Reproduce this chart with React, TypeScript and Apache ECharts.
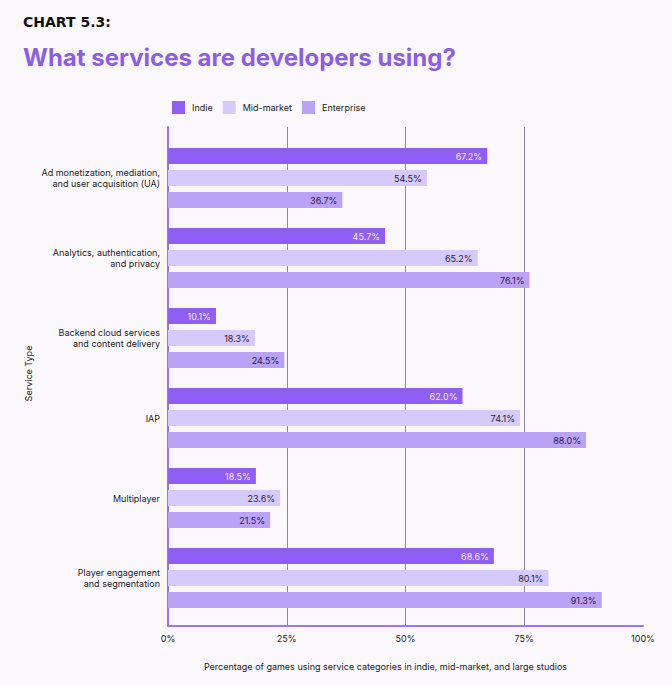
import React, { useEffect, useRef } from "react";
import * as echarts from "echarts";

const categories = [
  "Ad monetization, mediation,\nand user acquisition (UA)",
  "Analytics, authentication,\nand privacy",
  "Backend cloud services\nand content delivery",
  "IAP",
  "Multiplayer",
  "Player engagement\nand segmentation",
];
const seriesNames = ["Indie", "Mid-market", "Enterprise"];
const indie = [67.2, 45.7, 10.1, 62.0, 18.5, 68.6];
const midMarket = [54.5, 65.2, 18.3, 74.1, 23.6, 80.1];
const enterprise = [36.7, 76.1, 24.5, 88.0, 21.5, 91.3];
const xTicks = [0, 25, 50, 75, 100];

const colors = ["#8f5ef2", "#d6cafa", "#baa2f7"];
const labelColors = ["#f1eaff", "#2a2044", "#2a2044"];
const FONT = "Inter, 'Noto Sans', sans-serif";

export default function App() {
  const ref = useRef<HTMLDivElement>(null);
  useEffect(() => {
    document.body.style.margin = "0";
    const chart = echarts.init(ref.current!, null, { renderer: "svg" });
    const values = [indie, midMarket, enterprise];
    const option: any = {
      animation: false,
      backgroundColor: "#fbf8fc",
      textStyle: { fontFamily: FONT },
      title: [
        {
          text: "CHART 5.3:",
          left: 18,
          top: 10,
          textStyle: { fontFamily: "'DejaVu Sans', sans-serif", fontWeight: "bold", fontSize: 14, color: "#111" },
        },
        {
          text: "What services are developers using?",
          left: 18,
          top: 40,
          textStyle: { fontFamily: FONT, fontWeight: "bold", fontSize: 24, color: "#8c5ee6" },
        },
      ],
      legend: {
        left: 167,
        top: 96,
        itemWidth: 13,
        itemHeight: 13,
        itemGap: 10,
        icon: "rect",
        data: seriesNames,
        textStyle: { fontFamily: FONT, fontSize: 9, color: "#222", padding: [0, 0, 0, 2] },
      },
      grid: [
        { left: 168, width: 475, top: 138, height: 480 },
        { left: 168, width: 475, top: 127, height: 499 },
      ],
      xAxis: [
        { gridIndex: 0, type: "value", min: 0, max: 100, show: false },
        {
          gridIndex: 1,
          type: "value",
          min: xTicks[0],
          max: xTicks[xTicks.length - 1],
          interval: 25,
          axisLine: { show: true, lineStyle: { color: "#9a78e6", width: 2 } },
          axisTick: { show: false },
          splitLine: {
            show: true,
            showMinLine: false,
            showMaxLine: false,
            lineStyle: { color: "#8e84a8", width: 1 },
          },
          axisLabel: {
            formatter: "{value}%",
            fontFamily: FONT,
            fontSize: 9,
            color: "#222",
            margin: 8,
          },
          name: "Percentage of games using service categories in indie, mid-market, and large studios",
          nameLocation: "middle",
          nameGap: 36,
          nameTextStyle: { fontFamily: FONT, fontSize: 9, color: "#222", padding: [0, 40, 0, 0] },
        },
      ],
      yAxis: [
        {
          gridIndex: 0,
          type: "category",
          inverse: true,
          data: categories,
          axisLine: { show: false },
          axisTick: { show: false },
          splitLine: { show: false },
          axisLabel: {
            fontFamily: FONT,
            fontSize: 9,
            color: "#222",
            lineHeight: 11,
            margin: 8,
            align: "right",
          },
        },
        {
          gridIndex: 1,
          type: "value",
          min: 0,
          max: 1,
          axisLine: { show: true, lineStyle: { color: "#9a78e6", width: 2 } },
          axisTick: { show: false },
          axisLabel: { show: false },
          splitLine: { show: false },
          name: "Service Type",
          nameLocation: "middle",
          nameRotate: 90,
          nameGap: 135,
          nameTextStyle: { fontFamily: FONT, fontSize: 9, color: "#222", padding: [0, 0, 0, 6] },
        },
      ],
      series: seriesNames.map((name, i) => ({
        name,
        type: "bar",
        xAxisIndex: 0,
        yAxisIndex: 0,
        data: values[i],
        barWidth: 16,
        barGap: "37.5%",
        itemStyle: { color: colors[i] },
        label: {
          show: true,
          position: "insideRight",
          distance: 5,
          formatter: (p: any) => p.value.toFixed(1) + "%",
          fontFamily: FONT,
          fontSize: 9,
          color: labelColors[i],
        },
      })),
    };
    chart.setOption(option);
    return () => chart.dispose();
  }, []);
  return <div ref={ref} style={{ width: 672, height: 686 }} />;
}
